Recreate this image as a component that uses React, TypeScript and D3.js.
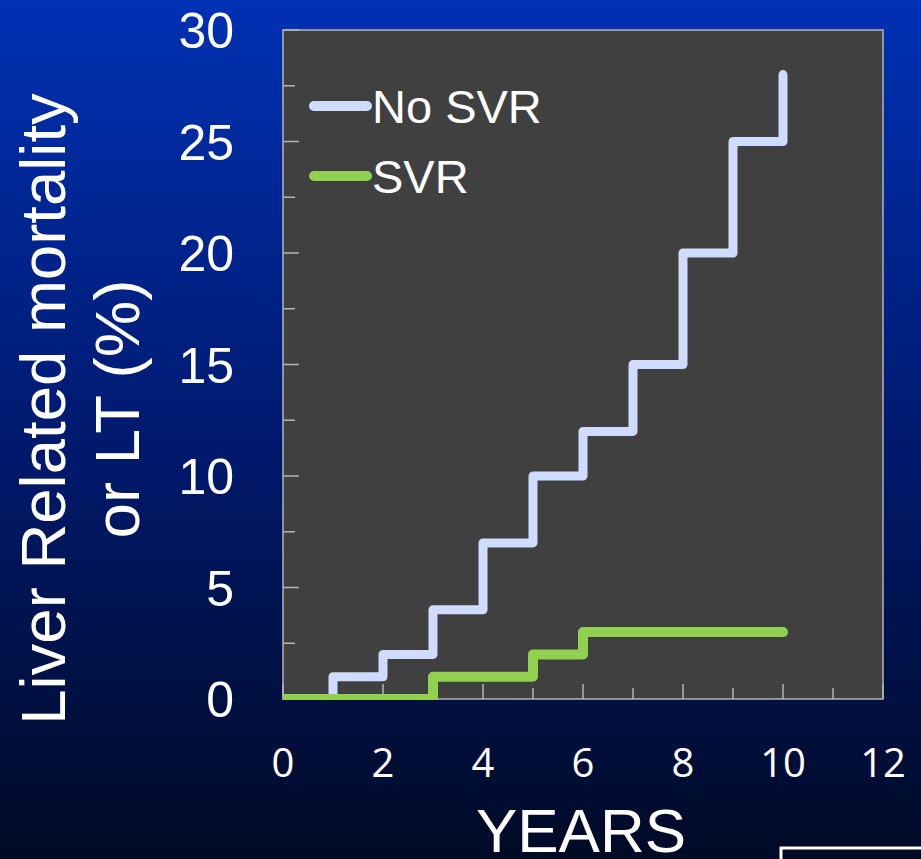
import React from "react";
import * as d3 from "d3";

const noSvrX = [0, 1, 2, 3, 4, 5, 6, 7, 8, 9, 10];
const noSvrY = [0, 1, 2, 4, 7, 10, 12, 15, 20, 25, 28];
const svrX = [0, 3, 5, 6, 10];
const svrY = [0, 1, 2, 3, 3];
const xTickLabels = [0, 2, 4, 6, 8, 10, 12];
const yTickLabels = [0, 5, 10, 15, 20, 25, 30];
const legendLabels = ["No SVR", "SVR"];
const yTitleLines = ["Liver Related mortality", "or LT (%)"];
const xTitle = "YEARS";

const W = 921;
const H = 859;
const L = 283, R = 883, T = 30, B = 699;

export default function App() {
  const x = d3.scaleLinear().domain([0, 12]).range([L, R]);
  const y = d3.scaleLinear().domain([0, 30]).range([B, T]);
  const line = d3
    .line<[number, number]>()
    .x((d) => x(d[0]))
    .y((d) => y(d[1]))
    .curve(d3.curveStepAfter);
  const blue = line(noSvrX.map((v, i) => [v, noSvrY[i]] as [number, number])) || "";
  const green = line(svrX.map((v, i) => [v, svrY[i]] as [number, number])) || "";
  const yMinor = d3.range(0, 30.01, 2.5).filter((v) => v % 5 !== 0);
  const xMinor = d3.range(1, 12, 2);
  const gridColor = "#b4b4b4";
  const font = "'Liberation Sans', Arial, sans-serif";
  const blueC = "#cfdbff";
  const greenC = "#92d050";
  return (
    <svg width={W} height={H} style={{ position: "absolute", left: 0, top: 0 }}>
      <defs>
        <linearGradient id="bg" x1="0" y1="0" x2="0" y2="1">
          <stop offset="0" stopColor="#0031b4" />
          <stop offset="0.5" stopColor="#001a70" />
          <stop offset="1" stopColor="#000a26" />
        </linearGradient>
        <clipPath id="plotClip">
          <rect x={L} y={T - 20} width={R - L} height={B - T + 21} />
        </clipPath>
      </defs>
      <rect x={0} y={0} width={W} height={H} fill="url(#bg)" />
      <rect x={L} y={T} width={R - L} height={B - T} fill="#404040" stroke={gridColor} strokeWidth={1.5} />
      {yTickLabels.map((v) => (
        <line key={"ym" + v} x1={L} x2={L + 16} y1={y(v)} y2={y(v)} stroke={gridColor} strokeWidth={1.5} />
      ))}
      {yMinor.map((v) => (
        <line key={"yn" + v} x1={L} x2={L + 12} y1={y(v)} y2={y(v)} stroke={gridColor} strokeWidth={1.5} />
      ))}
      {xTickLabels.map((v) => (
        <line key={"xm" + v} x1={x(v)} x2={x(v)} y1={B} y2={B - 15} stroke={gridColor} strokeWidth={1.5} />
      ))}
      {xMinor.map((v) => (
        <line key={"xn" + v} x1={x(v)} x2={x(v)} y1={B} y2={B - 11} stroke={gridColor} strokeWidth={1.5} />
      ))}
      <g clipPath="url(#plotClip)">
        <path d={blue} fill="none" stroke={blueC} strokeWidth={9} strokeLinecap="round" strokeLinejoin="round" />
        <path d={green} fill="none" stroke={greenC} strokeWidth={10} strokeLinecap="round" strokeLinejoin="round" />
      </g>
      {legendLabels.map((lab, i) => (
        <g key={lab}>
          <line x1={314} x2={367} y1={106 + i * 70} y2={106 + i * 70} stroke={i === 0 ? blueC : greenC} strokeWidth={10} strokeLinecap="round" />
          <text x={372} y={106 + i * 70 + 17} fill="#fff" fontFamily={font} fontSize={47}>
            {lab}
          </text>
        </g>
      ))}
      {yTickLabels.map((v) => (
        <text key={"yl" + v} x={234} y={y(v)} dy="0.36em" textAnchor="end" fill="#fff" fontFamily={font} fontSize={50}>
          {v}
        </text>
      ))}
      {xTickLabels.map((v) => (
        <text key={"xl" + v} x={x(v)} y={777} textAnchor="middle" fill="#fff" fontFamily="'Open Sans', sans-serif" fontSize={40}>
          {v}
        </text>
      ))}
      {yTitleLines.map((t, i) => (
        <text
          key={t}
          transform={`translate(${65 + i * 74},409) rotate(-90)`}
          textAnchor="middle"
          fill="#fff"
          fontFamily={font}
          fontSize={63.5}
        >
          {t}
        </text>
      ))}
      <text x={581} y={852} textAnchor="middle" fill="#fff" fontFamily={font} fontSize={62}>
        {xTitle}
      </text>
      <rect x={781} y={848} width={200} height={60} fill="none" stroke="#fff" strokeWidth={3} />
    </svg>
  );
}
